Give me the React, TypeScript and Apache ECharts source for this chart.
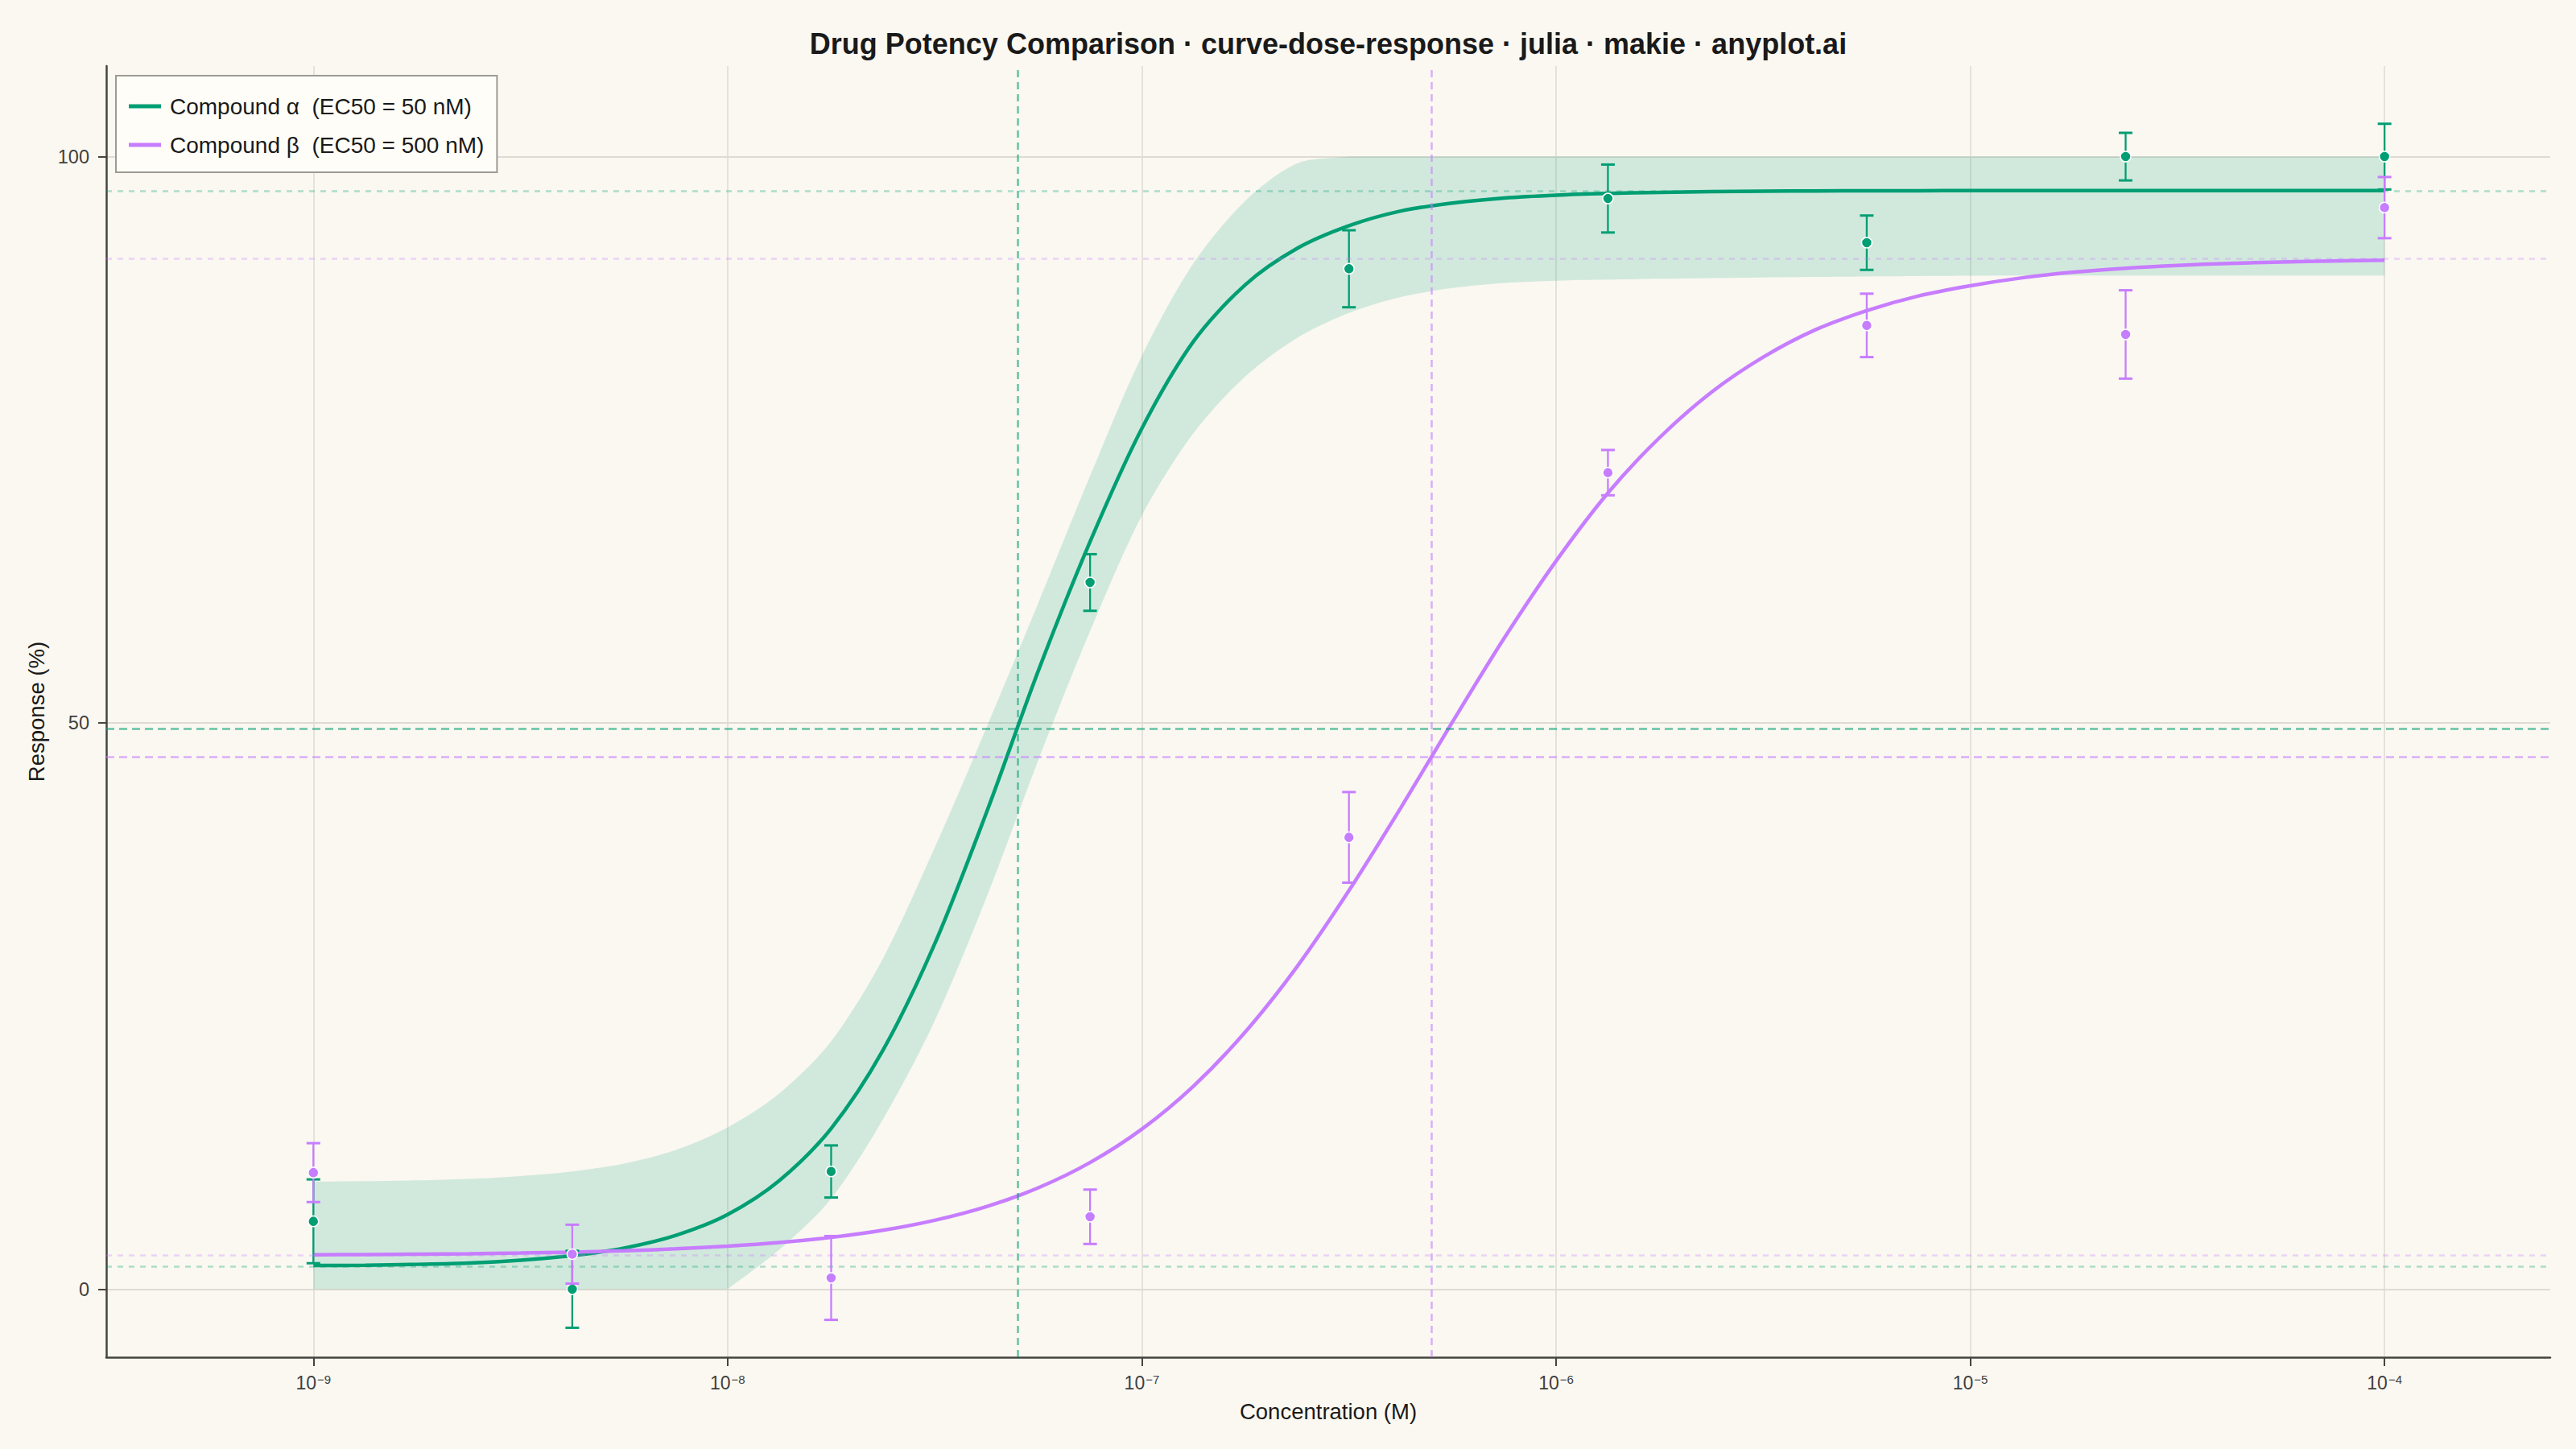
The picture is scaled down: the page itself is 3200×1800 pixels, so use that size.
import React, { useEffect, useRef } from "react";
import * as echarts from "echarts";

// ---------- data ----------
const NAME_A = "Compound α  (EC50 = 50 nM)";
const NAME_B = "Compound β  (EC50 = 500 nM)";

// measured concentrations (M)
const concentrations = [1e-9, 4.217e-9, 1.778e-8, 7.499e-8, 3.162e-7, 1.334e-6, 5.623e-6, 2.371e-5, 1e-4];
// mean response (%) and error (±)
const respA = [6.0, 0.0, 10.4, 62.4, 90.1, 96.3, 92.4, 100.0, 100.0];
const errA = [3.7, 3.4, 2.3, 2.5, 3.4, 3.0, 2.4, 2.1, 2.9];
const respB = [10.3, 3.1, 1.0, 6.4, 39.9, 72.1, 85.1, 84.3, 95.5];
const errB = [2.6, 2.6, 3.7, 2.4, 4.0, 2.0, 2.8, 3.9, 2.7];

// fitted-curve sample positions (log10 M) and values
const curveLogConc = [
  -9, -8.875, -8.75, -8.625, -8.5, -8.375, -8.25, -8.125, -8, -7.875, -7.75, -7.625, -7.5, -7.375,
  -7.25, -7.125, -7, -6.875, -6.75, -6.625, -6.5, -6.375, -6.25, -6.125, -6, -5.875, -5.75, -5.625,
  -5.5, -5.375, -5.25, -5.125, -5, -4.875, -4.75, -4.625, -4.5, -4.375, -4.25, -4.125, -4,
];
const curveA = [
  2.1, 2.12, 2.2, 2.32, 2.57, 2.97, 3.64, 4.76, 6.6, 9.6, 14.2, 21.1, 30.5, 42.1,
  54.6, 66.0, 76.0, 83.7, 88.7, 91.9, 93.9, 95.2, 95.9, 96.35, 96.6, 96.75, 96.85, 96.91,
  96.95, 96.97, 96.98, 96.99, 97.0, 97.0, 97.0, 97.0, 97.0, 97.0, 97.0, 97.0, 97.0,
];
const curveB = [
  3.05, 3.07, 3.1, 3.14, 3.2, 3.28, 3.4, 3.57, 3.8, 4.12, 4.58, 5.21, 6.09, 7.3,
  8.96, 11.19, 14.14, 17.95, 22.73, 28.5, 35.2, 42.5, 50.1, 57.5, 64.3, 70.3, 75.2, 79.2,
  82.3, 84.7, 86.4, 87.7, 88.6, 89.3, 89.8, 90.15, 90.4, 90.57, 90.7, 90.78, 90.85,
];
// confidence band of compound α (clipped to 0–100 in the picture)
const bandUpperA = [
  9.5, 9.55, 9.62, 9.75, 10.0, 10.4, 11.1, 12.3, 14.3, 17.3, 21.9, 29.2, 39.0, 49.6,
  60.6, 71.8, 82.4, 90.6, 96.1, 99.4, 100, 100, 100, 100, 100, 100, 100, 100,
  100, 100, 100, 100, 100, 100, 100, 100, 100, 100, 100, 100, 100,
];
const bandLowerA = [
  0, 0, 0, 0, 0, 0, 0, 0, 0, 3.5, 8.0, 15.0, 23.7, 34.6,
  46.7, 58.1, 68.3, 75.6, 80.6, 84.0, 86.2, 87.6, 88.4, 88.85, 89.05, 89.15, 89.22, 89.28,
  89.33, 89.38, 89.42, 89.45, 89.48, 89.5, 89.5, 89.5, 89.5, 89.5, 89.5, 89.5, 89.5,
];
const bandClip = [0, 100];

// fit parameters shown as reference lines
const ec50 = [5e-8, 5e-7];
const bottoms = [2, 3];
const tops = [97, 91];

// axis ticks
const xTickExponents = [-9, -8, -7, -6, -5, -4];
const yTicks = [0, 50, 100];

// ---------- styles ----------
const FONT = "'Liberation Sans', Arial, Helvetica, sans-serif";
const BG = "#FAF8F1";
const GREEN = "#009E73";
const PURPLE = "#C77DFF";
const AXIS = "#45443d";
const GRID = "#dedbd2";

function rgba(hex: string, a: number) {
  const n = parseInt(hex.slice(1), 16);
  return `rgba(${(n >> 16) & 255},${(n >> 8) & 255},${n & 255},${a})`;
}

function errorBarSeries(name: string, color: string, resp: number[], err: number[], z: number) {
  return {
    name,
    type: "custom",
    z,
    silent: true,
    data: concentrations.map((c, i) => [Math.log10(c), resp[i], err[i]]),
    encode: { x: 0, y: 1 },
    renderItem: (_params: any, api: any) => {
      const x = api.value(0);
      const y = api.value(1);
      const e = api.value(2);
      const t = api.coord([x, y + e]);
      const b = api.coord([x, y - e]);
      const cap = 8.5;
      return {
        type: "group",
        children: [
          { type: "line", shape: { x1: t[0], y1: t[1], x2: b[0], y2: b[1] }, style: { stroke: color, lineWidth: 2.3 } },
          { type: "line", shape: { x1: t[0] - cap, y1: t[1], x2: t[0] + cap, y2: t[1] }, style: { stroke: color, lineWidth: 3 } },
          { type: "line", shape: { x1: b[0] - cap, y1: b[1], x2: b[0] + cap, y2: b[1] }, style: { stroke: color, lineWidth: 3 } },
        ],
      };
    },
  };
}

function pointSeries(name: string, color: string, resp: number[], z: number) {
  return {
    name,
    type: "scatter",
    z,
    silent: true,
    symbol: "circle",
    symbolSize: 13,
    itemStyle: { color, borderColor: "#ffffff", borderWidth: 1.5, opacity: 1 },
    data: concentrations.map((c, i) => [Math.log10(c), resp[i]]),
  };
}

function refLine(value: number, axis: "xAxis" | "yAxis", color: string, alpha: number, type: any, width: number) {
  return { [axis]: value, lineStyle: { color: rgba(color, alpha), type, width } };
}

export default function App() {
  const ref = useRef<HTMLDivElement>(null);

  useEffect(() => {
    if (!ref.current) return;
    const chart = echarts.init(ref.current, undefined, { renderer: "svg" });

    const curveDataA = curveLogConc.map((x, i) => [x, curveA[i]]);
    const curveDataB = curveLogConc.map((x, i) => [x, curveB[i]]);

    const dotted = [7, 7];
    const dashed = [10, 6];

    // edge points of the band; clipped points are doubled so the smoothing keeps sharp corners there
    const edge = (api: any, vals: number[], reverse: boolean) => {
      const out: number[][] = [];
      const idx = curveLogConc.map((_, i) => i);
      if (reverse) idx.reverse();
      idx.forEach((i, k) => {
        const p = api.coord([curveLogConc[i], vals[i]]);
        out.push(p);
        if (k === 0 || k === idx.length - 1 || bandClip.includes(vals[i])) out.push(p);
      });
      return out;
    };

    const option: any = {
      animation: false,
      backgroundColor: BG,
      textStyle: { fontFamily: FONT },
      grid: { left: 132, right: 32, top: 82, bottom: 114 },
      graphic: [
        {
          type: "text",
          x: 1650,
          y: 54,
          style: {
            text: "Drug Potency Comparison · curve-dose-response · julia · makie · anyplot.ai",
            font: `bold 36px ${FONT}`,
            fill: "#1a1a1a",
            textAlign: "center",
            textVerticalAlign: "middle",
          },
        },
      ],
      legend: {
        show: true,
        orient: "vertical",
        left: 144,
        top: 94,
        padding: [24, 16, 20, 16],
        itemGap: 20,
        itemWidth: 40,
        itemHeight: 5,
        backgroundColor: "#FFFDF7",
        borderColor: "#9a9a96",
        borderWidth: 2,
        borderRadius: 0,
        textStyle: { fontSize: 28, color: "#1a1a1a", fontFamily: FONT, padding: [0, 0, 0, 6] },
        selectedMode: false,
        data: [
          { name: NAME_A, icon: "rect" },
          { name: NAME_B, icon: "rect" },
        ],
      },
      xAxis: {
        type: "value",
        min: -9.5,
        max: -3.6,
        name: "Concentration (M)",
        nameLocation: "middle",
        nameGap: 53,
        nameTextStyle: { fontSize: 27.5, color: "#1a1a1a", fontFamily: FONT },
        axisLine: { show: true, onZero: false, lineStyle: { color: AXIS, width: 2.5 } },
        axisTick: { show: true, customValues: xTickExponents, length: 11, lineStyle: { color: AXIS, width: 2 } },
        axisLabel: {
          customValues: xTickExponents,
          margin: 20,
          formatter: (v: number) => `{b|10}{s|−${Math.abs(Math.round(v))}}`,
          rich: {
            b: { fontSize: 23, color: "#3f3f3f", fontFamily: FONT, verticalAlign: "bottom" },
            s: { fontSize: 15, color: "#3f3f3f", fontFamily: FONT, verticalAlign: "top", padding: [0, 0, 0, 1] },
          },
        },
        splitLine: { show: true, lineStyle: { color: GRID, width: 1.5 } },
      },
      yAxis: {
        type: "value",
        min: -6,
        max: 108,
        name: "Response (%)",
        nameLocation: "middle",
        nameRotate: 90,
        nameGap: 73,
        nameTextStyle: { fontSize: 27.5, color: "#1a1a1a", fontFamily: FONT },
        axisLine: { show: true, onZero: false, lineStyle: { color: AXIS, width: 2.5 } },
        axisTick: { show: true, customValues: yTicks, length: 10, lineStyle: { color: AXIS, width: 2 } },
        axisLabel: { customValues: yTicks, fontSize: 23.5, color: "#3f3f3f", margin: 21, fontFamily: FONT },
        splitLine: { show: true, lineStyle: { color: GRID, width: 2 } },
      },
      series: [
        {
          name: "band-a",
          type: "custom",
          z: 1,
          silent: true,
          clip: true,
          data: curveLogConc.map((x, i) => [x, bandLowerA[i], bandUpperA[i]]),
          encode: { x: 0, y: [1, 2] },
          renderItem: (params: any, api: any) => {
            if (params.dataIndex !== 0) return null;
            const pts = [...edge(api, bandUpperA, false), ...edge(api, bandLowerA, true)];
            return {
              type: "polygon",
              shape: { points: pts, smooth: 0.3 },
              style: { fill: rgba(GREEN, 0.16), stroke: "none" },
            };
          },
        },
        {
          name: "reference-lines",
          type: "line",
          z: 2,
          silent: true,
          data: [],
          markLine: {
            silent: true,
            symbol: ["none", "none"],
            label: { show: false },
            animation: false,
            data: [
              refLine(bottoms[0], "yAxis", GREEN, 0.3, dotted, 2.7),
              refLine(tops[0], "yAxis", GREEN, 0.3, dotted, 2.7),
              refLine(bottoms[1], "yAxis", PURPLE, 0.3, dotted, 2.7),
              refLine(tops[1], "yAxis", PURPLE, 0.3, dotted, 2.7),
              refLine((bottoms[0] + tops[0]) / 2, "yAxis", GREEN, 0.6, dashed, 2.5),
              refLine((bottoms[1] + tops[1]) / 2, "yAxis", PURPLE, 0.6, dashed, 2.5),
              refLine(Math.log10(ec50[0]), "xAxis", GREEN, 0.6, [9, 6], 2.5),
              refLine(Math.log10(ec50[1]), "xAxis", PURPLE, 0.6, [9, 6], 2.5),
            ],
          },
        },
        {
          name: NAME_A,
          type: "line",
          z: 3,
          silent: true,
          smooth: 0.3,
          symbol: "none",
          color: GREEN,
          lineStyle: { color: GREEN, width: 4.5 },
          data: curveDataA,
        },
        {
          name: NAME_B,
          type: "line",
          z: 3,
          silent: true,
          smooth: 0.3,
          symbol: "none",
          color: PURPLE,
          lineStyle: { color: PURPLE, width: 4.5 },
          data: curveDataB,
        },
        errorBarSeries("err-a", GREEN, respA, errA, 4),
        pointSeries("pts-a", GREEN, respA, 5),
        errorBarSeries("err-b", PURPLE, respB, errB, 6),
        pointSeries("pts-b", PURPLE, respB, 7),
      ],
    };

    chart.setOption(option);
    return () => chart.dispose();
  }, []);

  return (
    <div
      ref={ref}
      style={{ position: "fixed", left: 0, top: 0, width: 3200, height: 1800, background: BG }}
    />
  );
}
